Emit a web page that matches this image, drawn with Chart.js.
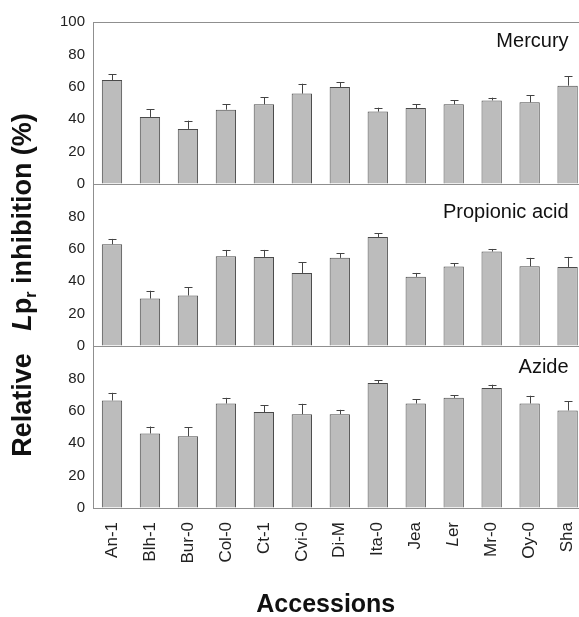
<!DOCTYPE html>
<html>
<head>
<meta charset="utf-8">
<script src="https://cdn.jsdelivr.net/npm/chart.js@4.4.1/dist/chart.umd.min.js"></script>
<style>
  html, body { margin: 0; padding: 0; background: #fff; overflow: hidden; }
</style>
</head>
<body>
<canvas id="chart" width="602" height="617"></canvas>
<script>
// accessions (x categories)
const accessions = ['An-1', 'Blh-1', 'Bur-0', 'Col-0', 'Ct-1', 'Cvi-0', 'Di-M', 'Ita-0', 'Jea', 'Ler', 'Mr-0', 'Oy-0', 'Sha']

// relative Lpr inhibition (%) and error (upper whisker) per treatment
const mercury      = [64.2, 41.4, 34.0, 45.9, 49.2, 55.8, 59.9, 44.7, 46.9, 49.2, 51.6, 50.4, 60.7]
const mercuryErr   = [3.5, 4.7, 5.1, 3.3, 4.5, 6.1, 2.9, 2.4, 2.3, 2.4, 1.7, 4.5, 5.8]
const propionic    = [62.8, 29.3, 31.2, 55.4, 55.0, 45.1, 54.4, 67.3, 42.7, 49.0, 58.3, 49.2, 48.8]
const propionicErr = [3.3, 4.8, 5.1, 3.9, 4.3, 6.6, 3.0, 2.2, 2.4, 2.1, 1.6, 5.2, 6.2]
const azide        = [66.4, 46.0, 44.3, 64.5, 59.2, 57.9, 57.9, 77.1, 64.5, 68.0, 74.0, 64.5, 60.2]
const azideErr     = [4.7, 4.3, 5.4, 3.5, 4.3, 6.4, 2.7, 1.9, 2.5, 1.7, 2.1, 4.8, 5.6]

const panelNames = ['Mercury', 'Propionic acid', 'Azide']
const yMin = 0, yMax = 100, yStep = 20

const FONT = "'Liberation Sans', Arial, sans-serif"
Chart.defaults.font.family = FONT

const panels = [
    { id: 'yMerc', name: panelNames[0], data: mercury, err: mercuryErr, labelDy: 25 },
    { id: 'yProp', name: panelNames[1], data: propionic, err: propionicErr, labelDy: 34 },
    { id: 'yAzide', name: panelNames[2], data: azide, err: azideErr, labelDy: 27 },
]

function panelAxis(isTop) {
    return {
        type: 'linear',
        position: 'left',
        stack: 'panels',
        stackWeight: 1,
        min: yMin,
        max: yMax,
        ticks: {
            stepSize: yStep,
            autoSkip: false,
            color: '#222',
            font: { size: 15 },
            padding: 8,
            callback: v => (v === yMax && !isTop) ? '' : v
        },
        grid: {
            drawTicks: false,
            lineWidth: 1,
            color: c => (c.tick && c.tick.value === yMax) ? '#8f8f8f' : 'rgba(0,0,0,0)'
        },
        border: { color: '#8f8f8f', width: 1 },
        afterFit: s => { s.width = 93 }
    }
}

const LER = accessions.indexOf('Ler')
const X_PAD = 14

const decor = {
    id: 'decor',
    afterDatasetsDraw(chart) {
        const ctx = chart.ctx
        ctx.save()
        ctx.strokeStyle = '#444'
        ctx.lineWidth = 1
        chart.data.datasets.forEach((ds, i) => {
            const meta = chart.getDatasetMeta(i)
            const ys = chart.scales[ds.yAxisID]
            meta.data.forEach((bar, j) => {
                const x = Math.round(bar.x) + 0.5
                const yTop = ys.getPixelForValue(ds.data[j] + ds.errors[j])
                ctx.beginPath()
                ctx.moveTo(x, bar.y)
                ctx.lineTo(x, yTop)
                ctx.moveTo(x - 4, Math.round(yTop) + 0.5)
                ctx.lineTo(x + 4, Math.round(yTop) + 0.5)
                ctx.stroke()
            })
        })
        ctx.restore()
    },
    afterDraw(chart) {
        const ctx = chart.ctx
        const area = chart.chartArea
        ctx.save()
        ctx.fillStyle = '#111'

        // panel names
        ctx.font = '20px ' + FONT
        ctx.textAlign = 'right'
        ctx.textBaseline = 'alphabetic'
        panels.forEach(p => {
            ctx.fillText(p.name, area.right - 18, chart.scales[p.id].top + p.labelDy)
        })

        // "Ler" with italic L
        const xs = chart.scales.x
        ctx.save()
        ctx.fillStyle = '#222'
        ctx.translate(xs.getPixelForTick(LER), xs.top + X_PAD)
        ctx.rotate(-Math.PI / 2)
        ctx.textBaseline = 'middle'
        ctx.textAlign = 'right'
        ctx.font = '17px ' + FONT
        ctx.fillText('er', 0, 0)
        const w = ctx.measureText('er').width
        ctx.font = 'italic 17px ' + FONT
        ctx.fillText('L', -w, 0)
        ctx.restore()

        // y title with italic L and subscript r
        const parts = [
            { t: 'Relative   ', f: 'bold 27px ' + FONT, dy: 0 },
            { t: 'L', f: 'italic bold 27px ' + FONT, dy: 0 },
            { t: 'p', f: 'bold 27px ' + FONT, dy: 0 },
            { t: 'r', f: 'bold 16px ' + FONT, dy: 8 },
            { t: ' inhibition (%)', f: 'bold 27px ' + FONT, dy: 0 },
        ]
        let total = 0
        parts.forEach(p => { ctx.font = p.f; p.w = ctx.measureText(p.t).width; total += p.w })
        ctx.save()
        ctx.translate(24, (area.top + area.bottom) / 2 + 20)
        ctx.rotate(-Math.PI / 2)
        ctx.textAlign = 'left'
        ctx.textBaseline = 'middle'
        let cx = -total / 2
        parts.forEach(p => { ctx.font = p.f; ctx.fillText(p.t, cx, p.dy); cx += p.w })
        ctx.restore()

        // x title
        ctx.font = 'bold 25px ' + FONT
        ctx.textAlign = 'center'
        ctx.textBaseline = 'middle'
        ctx.fillText('Accessions', (area.left + area.right) / 2 - 14, 605)

        ctx.restore()
    }
}

const scales = {
    x: {
        type: 'category',
        grid: { display: false, drawTicks: false },
        border: { color: '#8f8f8f', width: 1 },
        ticks: {
            autoSkip: false,
            minRotation: 90,
            maxRotation: 90,
            padding: X_PAD,
            font: { size: 17 },
            color: c => c.index === LER ? 'rgba(0,0,0,0)' : '#222'
        },
        afterFit: s => { s.height = 109 }
    },
    // stacked bottom to top
    yAzide: panelAxis(false),
    yProp: panelAxis(false),
    yMerc: panelAxis(true),
}

new Chart(document.getElementById('chart'), {
    type: 'bar',
    data: {
        labels: accessions,
        datasets: panels.map(p => ({
            label: p.name,
            data: p.data,
            errors: p.err,
            yAxisID: p.id,
            grouped: false,
            backgroundColor: '#bcbcbc',
            borderColor: '#4a4a4a',
            borderWidth: 1,
            barPercentage: 0.535,
            categoryPercentage: 1,
        }))
    },
    options: {
        responsive: false,
        animation: false,
        layout: { padding: { top: 22, left: 0, right: 0, bottom: 0 } },
        plugins: {
            legend: { display: false },
            tooltip: { enabled: false },
        },
        scales: scales
    },
    plugins: [decor]
})
</script>
</body>
</html>
